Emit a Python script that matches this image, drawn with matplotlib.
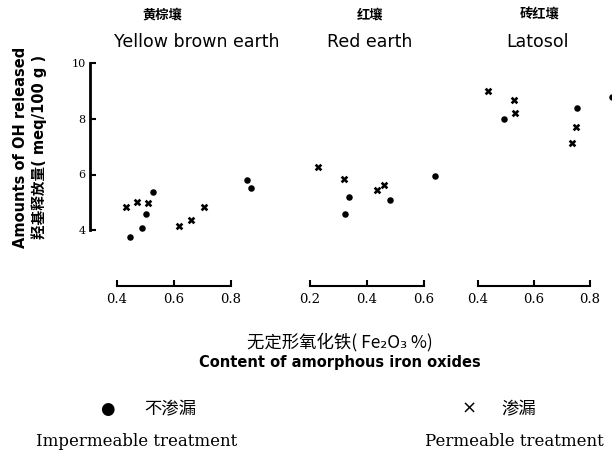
import matplotlib
matplotlib.use("Agg")
import matplotlib.pyplot as plt

CJK = ["Noto Sans CJK SC", "DejaVu Sans"]
LATIN_CJK = ["DejaVu Sans", "Noto Sans CJK SC"]

# Yellow brown earth
ybe_x_perm = [0.432, 0.470, 0.509, 0.618, 0.660, 0.705]
ybe_y_perm = [4.85, 5.03, 4.96, 4.14, 4.35, 4.85]
ybe_x_imp = [0.446, 0.488, 0.502, 0.526, 0.856, 0.870]
ybe_y_imp = [3.75, 4.07, 4.57, 5.38, 5.81, 5.53]

# Red earth
red_x_perm = [0.228, 0.319, 0.435, 0.460]
red_y_perm = [6.27, 5.85, 5.46, 5.63]
red_x_imp = [0.337, 0.323, 0.481, 0.639]
red_y_imp = [5.21, 4.57, 5.10, 5.95]

# Latosol
lat_x_perm = [0.436, 0.529, 0.532, 0.750, 0.736]
lat_y_perm = [9.00, 8.69, 8.19, 7.69, 7.12]
lat_x_imp = [0.493, 0.754, 0.879]
lat_y_imp = [7.98, 8.37, 8.79]

titles_cn = ["黄棕壤", "红壤", "砖红壤"]
titles_en = ["Yellow brown earth", "Red earth", "Latosol"]
xticks = [[0.4, 0.6, 0.8], [0.2, 0.4, 0.6], [0.4, 0.6, 0.8]]
yticks = [4, 6, 8, 10]

W, H = 612, 453
fig = plt.figure(figsize=(W / 100, H / 100), dpi=100)

# panel placement in pixels: left, right, and x-limits
panels = [
    (90, 270, (0.305, 0.937)),
    (290, 450, (0.130, 0.691)),
    (465, 612, (0.354, 0.879)),
]
data = [
    (ybe_x_perm, ybe_y_perm, ybe_x_imp, ybe_y_imp),
    (red_x_perm, red_y_perm, red_x_imp, red_y_imp),
    (lat_x_perm, lat_y_perm, lat_x_imp, lat_y_imp),
]

bottom_px, top_px = 286, 63
for i, ((l, r, xlim), (xp, yp, xi, yi)) in enumerate(zip(panels, data)):
    ax = fig.add_axes([l / W, 1 - bottom_px / H, (r - l) / W, (bottom_px - top_px) / H])
    ax.set_xlim(*xlim)
    ax.set_ylim(2, 10)
    ax.patch.set_alpha(0)
    ax.scatter(xp, yp, marker="X", s=30, color="black", linewidths=0, clip_on=False)
    ax.scatter(xi, yi, marker="o", s=22, color="black", linewidths=0, clip_on=False)

    for side in ["top", "right"]:
        ax.spines[side].set_visible(False)
    ax.spines["bottom"].set_bounds(xticks[i][0], xticks[i][-1])
    ax.spines["bottom"].set_linewidth(1.5)
    ax.set_xticks(xticks[i])
    ax.set_xticklabels([f"{t:.1f}" for t in xticks[i]], family="DejaVu Serif", fontsize=9.5)
    ax.tick_params(axis="x", direction="in", length=4, width=1.5, pad=5)

    if i == 0:
        ax.spines["left"].set_bounds(4, 10)
        ax.spines["left"].set_linewidth(2)
        ax.set_yticks(yticks)
        ax.set_yticklabels([str(t) for t in yticks], family="DejaVu Serif", fontsize=8)
        ax.tick_params(axis="y", direction="in", length=4, width=1.5, pad=3)
    else:
        ax.spines["left"].set_visible(False)
        ax.set_yticks([])

# panel titles
title_pos = [(162, 197), (370, 370), (540, 538)]
for (cx_cn, cx_en), tcn, ten in zip(title_pos, titles_cn, titles_en):
    fig.text(cx_cn / W, 1 - 15 / H, tcn, family=CJK, fontsize=9.5, fontweight="bold",
             ha="center", va="center")
    fig.text(cx_en / W, 1 - 42 / H, ten, family="DejaVu Sans", fontsize=12.5,
             ha="center", va="center")

# y label
fig.text(30 / W, 1 - 147 / H, "Amounts of OH released\n羟基释放量( meq/100 g )",
         family=LATIN_CJK, fontsize=10.5, fontweight="bold", rotation=90,
         ha="center", va="center", linespacing=1.3)

# x label
fig.text(340 / W, 1 - 342 / H, "无定形氧化铁( Fe₂O₃ %)", family=CJK, fontsize=12.5,
         ha="center", va="center")
fig.text(340 / W, 1 - 363 / H, "Content of amorphous iron oxides", family="DejaVu Sans",
         fontsize=10.5, fontweight="bold", ha="center", va="center")

# legend
fig.text(107 / W, 1 - 409 / H, "●", family="DejaVu Sans", fontsize=12, ha="center", va="center")
fig.text(170 / W, 1 - 409 / H, "不渗漏", family=CJK, fontsize=12.5, ha="center", va="center")
fig.text(137 / W, 1 - 442 / H, "Impermeable treatment", family="DejaVu Serif", fontsize=12,
         ha="center", va="center")
fig.text(469 / W, 1 - 409 / H, "×", family="DejaVu Sans", fontsize=13, ha="center", va="center")
fig.text(519 / W, 1 - 409 / H, "渗漏", family=CJK, fontsize=12.5, ha="center", va="center")
fig.text(514 / W, 1 - 442 / H, "Permeable treatment", family="DejaVu Serif", fontsize=12,
         ha="center", va="center")

fig.savefig("out.png", dpi=100)
